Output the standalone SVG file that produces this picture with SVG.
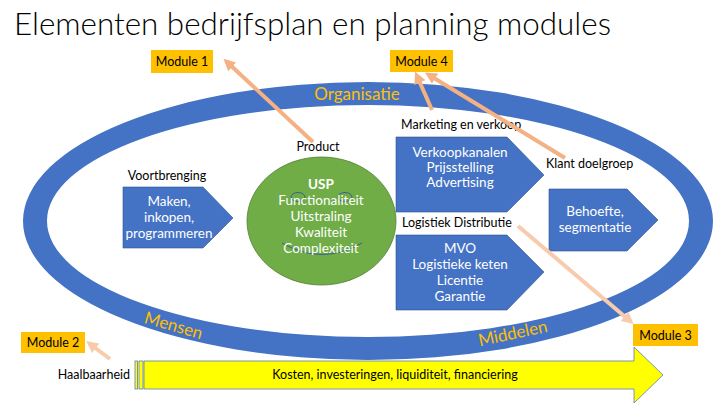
<svg xmlns="http://www.w3.org/2000/svg" width="720" height="405" viewBox="0 0 720 405">
<defs>
<style>
.t{font-family:Lato,"Open Sans","Liberation Sans",sans-serif;font-size:12.5px;fill:#000}
.w{font-family:Lato,"Open Sans","Liberation Sans",sans-serif;font-size:13.5px;fill:#fff;text-anchor:middle}
.ring{font-family:Lato,"Open Sans","Liberation Sans",sans-serif;font-size:17px;fill:#FFC000;text-anchor:middle}
.blue{fill:#4472C4;stroke:#2F528F;stroke-width:0.6}
.mod{fill:#FFC000}
.arr{stroke:#F4B183;stroke-width:4;fill:none;marker-end:url(#ah)}
.arr2{stroke:#F8CBAD;stroke-width:4;fill:none;marker-end:url(#ah2)}
</style>
<marker id="ah" viewBox="0 0 10 10" refX="6" refY="5" markerWidth="3" markerHeight="3" orient="auto">
<path d="M0,0 L10,5 L0,10 z" fill="#F4B183"/>
</marker>
<marker id="ah2" viewBox="0 0 10 10" refX="6" refY="5" markerWidth="3" markerHeight="3" orient="auto">
<path d="M0,0 L10,5 L0,10 z" fill="#F8CBAD"/>
</marker>
</defs>
<rect width="720" height="405" fill="#fff"/>
<text x="14" y="35" font-family="Lato,'Open Sans','Liberation Sans',sans-serif" font-weight="300" font-size="31" fill="#000" textLength="597" lengthAdjust="spacingAndGlyphs">Elementen bedrijfsplan en planning modules</text>

<g id="ring">
<path fill="#4472C4" fill-rule="evenodd" d="M23,221 a345,139 0 1,0 690,0 a345,139 0 1,0 -690,0 z M47,221 a321,116 0 1,0 642,0 a321,116 0 1,0 -642,0 z"/>
<text class="ring" x="357" y="100">Organisatie</text>
<text class="ring" transform="translate(172,331) rotate(16)">Mensen</text>
<text class="ring" transform="translate(514,339) rotate(-12)">Middelen</text>
</g>

<g id="voortbrenging">
<text class="t" x="167" y="180" text-anchor="middle">Voortbrenging</text>
<polygon class="blue" points="123,187 203,187 233,218 203,248 123,248"/>
<text class="w" x="169" y="206">Maken,</text>
<text class="w" x="169" y="222">inkopen,</text>
<text class="w" x="169" y="238">programmeren</text>
</g>

<g id="product">
<text class="t" x="318" y="151" text-anchor="middle">Product</text>
<ellipse cx="321.5" cy="221" rx="74.5" ry="64" fill="#70AD47" stroke="#507E32" stroke-width="0.8"/>
<ellipse cx="298" cy="197" rx="7" ry="4.5" fill="none" stroke="#3A5F8F" stroke-width="1"/>
<ellipse cx="345" cy="197" rx="7" ry="4.5" fill="none" stroke="#3A5F8F" stroke-width="1"/>
<path d="M282,243 Q322,266 362,243" fill="none" stroke="#3A5F8F" stroke-width="1"/>
<text class="w" x="321" y="189" font-weight="bold">USP</text>
<text class="w" x="321" y="205">Functionaliteit</text>
<text class="w" x="321" y="221">Uitstraling</text>
<text class="w" x="321" y="237">Kwaliteit</text>
<text class="w" x="321" y="253">Complexiteit</text>
</g>

<g id="marketing">
<text class="t" x="401" y="129">Marketing en verkoop</text>
<polygon class="blue" points="396,137 507,137 544,175 507,212 396,212"/>
<text class="w" x="460" y="157">Verkoopkanalen</text>
<text class="w" x="460" y="172">Prijsstelling</text>
<text class="w" x="460" y="187">Advertising</text>
</g>

<g id="klant">
<text class="t" x="546" y="168">Klant doelgroep</text>
<polygon class="blue" points="549,189 627,189 658,220 627,251 549,251"/>
<text class="w" x="595" y="216">Behoefte,</text>
<text class="w" x="595" y="232">segmentatie</text>
</g>

<g id="logistiek">
<text class="t" x="402" y="227">Logistiek Distributie</text>
<polygon class="blue" points="396,235 507,235 544,272 507,310 396,310"/>
<text class="w" x="460" y="253">MVO</text>
<text class="w" x="460" y="269">Logistieke keten</text>
<text class="w" x="460" y="285">Licentie</text>
<text class="w" x="460" y="301">Garantie</text>
</g>

<g id="haalbaarheid">
<text class="t" x="130" y="379" text-anchor="end">Haalbaarheid</text>
<rect x="135" y="361" width="2.5" height="28" fill="#FFFF00" stroke="#5B7BB8" stroke-width="0.8"/>
<rect x="139" y="361" width="4" height="28" fill="#FFFF00" stroke="#5B7BB8" stroke-width="0.8"/>
<polygon points="144,361 634,361 634,347 663,375 634,403 634,389 144,389" fill="#FFFF00" stroke="#5B7BB8" stroke-width="0.8"/>
<text class="t" x="395" y="379" text-anchor="middle">Kosten, investeringen, liquiditeit, financiering</text>
</g>

<g id="module1"><rect class="mod" x="151" y="50" width="62" height="23"/><text class="t" x="182" y="66" text-anchor="middle">Module 1</text></g>
<g id="module4"><rect class="mod" x="390" y="50" width="63" height="22"/><text class="t" x="421.5" y="66" text-anchor="middle">Module 4</text></g>
<g id="module2"><rect class="mod" x="21" y="332" width="64" height="21"/><text class="t" x="53" y="347" text-anchor="middle">Module 2</text></g>
<g id="module3"><rect class="mod" x="633" y="324" width="65" height="22"/><text class="t" x="665.5" y="340" text-anchor="middle">Module 3</text></g>

<g id="connectors">
<line class="arr" x1="313" y1="142" x2="227" y2="62"/>
<line class="arr" x1="432" y1="110" x2="417" y2="76"/>
<line class="arr" x1="565" y1="158" x2="429" y2="75"/>
<line class="arr2" x1="518" y1="226" x2="630" y2="321"/>
<line class="arr2" x1="110" y1="359" x2="90" y2="344"/>
</g>
</svg>
